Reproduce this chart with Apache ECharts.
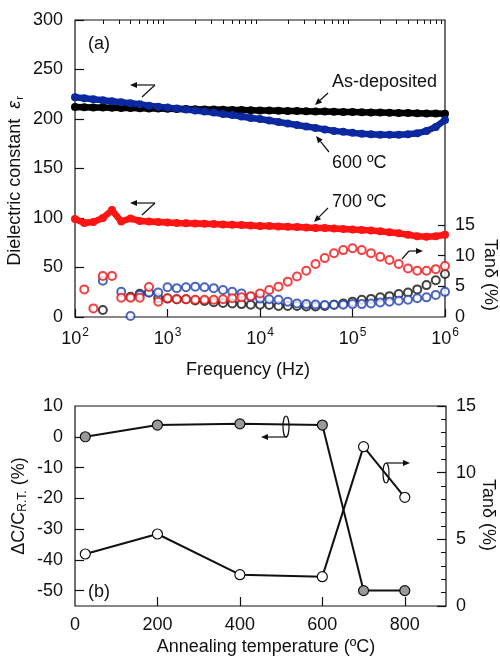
<!DOCTYPE html>
<html>
<head>
<meta charset="utf-8">
<script src="https://cdn.jsdelivr.net/npm/echarts@6/dist/echarts.min.js"></script>
<style>
html, body { margin: 0; padding: 0; background: #fff; }
#main { width: 500px; height: 658px; }
</style>
</head>
<body>
<div id="main"></div>
<script>
// ---- (a) frequency sweep, 10 points per decade
var freqHz = [100, 126, 158, 200, 251, 316, 398, 501, 631, 794,
  1000, 1259, 1585, 1995, 2512, 3162, 3981, 5012, 6310, 7943,
  10000, 12589, 15849, 19953, 25119, 31623, 39811, 50119, 63096, 79433,
  100000, 125893, 158489, 199526, 251189, 316228, 398107, 501187, 630957, 794328, 1000000]

// dielectric constant (left axis)
var epsAsDep = [212, 211.8, 211.6, 211.5, 211.3, 211.1, 211, 210.8, 210.6, 210.5,
  210.3, 210.1, 210, 209.8, 209.6, 209.5, 209.3, 209.1, 209, 208.8,
  208.6, 208.5, 208.3, 208.1, 208, 207.8, 207.6, 207.5, 207.3, 207.1,
  207, 206.8, 206.6, 206.5, 206.3, 206.1, 206, 205.8, 205.6, 205.5, 205.3]
var eps600 = [222, 221, 220, 219, 218, 217, 216, 215, 213.5, 212.5,
  211.5, 210.5, 209.5, 208.5, 207.5, 206.5, 205, 204, 202.5, 201,
  200, 198.5, 197, 195.5, 194, 192.5, 191, 189.5, 188, 187,
  186, 185, 184.5, 184, 184, 184, 184.5, 185.5, 188, 192, 199]
var eps700 = [99, 95, 96, 100, 108, 96.5, 99.5, 97, 96.5, 96,
  95.5, 95, 94.8, 94.5, 94.2, 94, 93.5, 93.2, 93, 92.5,
  92, 91.8, 91.5, 91.2, 91, 90.5, 90, 89.8, 89.5, 89,
  88.5, 88, 87.5, 86.5, 85.5, 84.5, 83, 81.5, 81, 81.5, 83]

// tan delta in % (right axis)
var tanAsDep = [null, null, null, 1.15, null, null, 3.3, 3.8, 4.0, 3.1,
  3.0, 2.9, 2.9, 2.7, 2.6, 2.4, 2.3, 2.2, 2.1, 2.0,
  2.0, 1.95, 1.8, 1.8, 1.8, 1.7, 1.7, 1.8, 2.0, 2.2,
  2.5, 2.8, 2.95, 3.2, 3.4, 3.75, 4.0, 4.5, 5.2, 6.0, 7.0]
var tan600 = [null, null, null, 5.9, null, 4.1, 0.15, 3.6, 4.0, 4.0,
  4.85, 4.7, 4.85, 4.95, 4.85, 4.7, 4.4, 4.1, 3.85, 3.3,
  3.0, 2.9, 2.8, 2.5, 2.2, 2.1, 2.05, 1.95, 2.0, 2.0,
  2.1, 2.1, 2.2, 2.35, 2.5, 2.65, 2.8, 3.05, 3.2, 3.6, 4.1]
var tan700 = [null, 4.5, 1.4, 6.7, 6.7, 3.15, 3.15, 3.15, 4.9, 2.5,
  3.05, 2.9, 2.9, 2.8, 2.8, 2.8, 2.9, 3.05, 3.2, 3.4,
  3.85, 4.4, 4.95, 5.76, 6.6, 7.55, 8.65, 9.6, 10.4, 10.9,
  11.2, 10.9, 10.4, 9.8, 9.3, 8.65, 7.9, 7.55, 7.55, 7.8, 8.3]

var minorFreq = [200, 300, 400, 500, 600, 700, 800, 900,
  2000, 3000, 4000, 5000, 6000, 7000, 8000, 9000,
  20000, 30000, 40000, 50000, 60000, 70000, 80000, 90000,
  200000, 300000, 400000, 500000, 600000, 700000, 800000, 900000]

// ---- (b) annealing
var annealT = [25, 200, 400, 600, 700, 800]
var dCap = [0, 3.8, 4.2, 3.8, -50, -50]
var tanAnneal = [3.9, 5.4, 2.35, 2.2, 11.95, 8.15]

var FONT = '"Liberation Sans", Arial, Helvetica, sans-serif'
var ink = '#111'

function pairs(xs, ys) {
  var out = []
  xs.forEach(function (x, i) { if (ys[i] != null) out.push([x, ys[i]]) })
  return out
}

function arrow(x1, y1, x2, y2) {
  var a = Math.atan2(y2 - y1, x2 - x1), L = 7, W = 3
  var bx = x2 - L * Math.cos(a), by = y2 - L * Math.sin(a)
  return [
    { type: 'line', shape: { x1: x1, y1: y1, x2: bx, y2: by }, style: { stroke: ink, lineWidth: 1.2 } },
    { type: 'polygon', shape: { points: [[x2, y2], [bx + W * Math.sin(a), by - W * Math.cos(a)], [bx - W * Math.sin(a), by + W * Math.cos(a)]] }, style: { fill: ink } }
  ]
}
function seg(x1, y1, x2, y2) {
  return { type: 'line', shape: { x1: x1, y1: y1, x2: x2, y2: y2 }, style: { stroke: ink, lineWidth: 1.2 } }
}
function txt(x, y, text, opt) {
  opt = opt || {}
  return {
    type: 'text', x: x, y: y, rotation: opt.rot || 0,
    style: {
      text: text, fontSize: 18, fontFamily: FONT, fill: ink,
      align: opt.align || 'left', verticalAlign: 'middle', rich: opt.rich
    }
  }
}

var tickLabel = { color: ink, fontSize: 18, fontFamily: FONT }

function denseLine(name, data, color) {
  return {
    name: name, type: 'line', xAxisIndex: 0, yAxisIndex: 0,
    data: pairs(freqHz, data), symbol: 'circle', symbolSize: 8, showAllSymbol: true,
    itemStyle: { color: color }, lineStyle: { color: color, width: 6.5 }, z: 3
  }
}
function openPts(name, data, color) {
  return {
    name: name, type: 'scatter', xAxisIndex: 0, yAxisIndex: 1,
    data: pairs(freqHz, data), symbol: 'emptyCircle', symbolSize: 8,
    itemStyle: { color: color, borderWidth: 1.4 }, z: 2
  }
}

var graphics = [
  txt(88, 44, '(a)'),
  txt(88, 592, '(b)'),
  txt(248, 370, 'Frequency (Hz)', { align: 'center' }),
  txt(266, 647, 'Annealing temperature (ºC)', { align: 'center' }),
  txt(15, 181, '{n|Dielectric constant  }{e|ε}{r|r}', {
    align: 'center', rot: Math.PI / 2,
    rich: {
      n: { fontSize: 18, fontFamily: FONT, fill: ink },
      e: { fontSize: 18, fontFamily: FONT, fontStyle: 'italic', fill: ink },
      r: { fontSize: 11, fontFamily: FONT, fill: ink, padding: [9, 0, 0, 1] }
    }
  }),
  txt(490, 275, 'Tanδ (%)', { align: 'center', rot: -Math.PI / 2 }),
  txt(19, 506, '{n|ΔC/C}{s|R.T.}{n| (%)}', {
    align: 'center', rot: Math.PI / 2,
    rich: {
      n: { fontSize: 18, fontFamily: FONT, fill: ink },
      s: { fontSize: 12, fontFamily: FONT, fill: ink, padding: [8, 0, 0, 0] }
    }
  }),
  txt(488, 515, 'Tanδ (%)', { align: 'center', rot: -Math.PI / 2 }),
  txt(332, 82, 'As-deposited'),
  txt(332, 163, '600 ºC'),
  txt(332, 202, '700 ºC'),
  seg(155, 85, 142, 97),
  seg(155, 203, 142, 215),
  seg(409, 251, 402, 259),
  { type: 'ellipse', shape: { cx: 286, cy: 426.5, rx: 3, ry: 10.5 }, style: { fill: 'none', stroke: ink, lineWidth: 1.2 } },
  { type: 'ellipse', shape: { cx: 386, cy: 473, rx: 3, ry: 10 }, style: { fill: 'none', stroke: ink, lineWidth: 1.2 } }
]
  .concat(arrow(328, 93, 315, 105))
  .concat(arrow(329, 152, 316, 136))
  .concat(arrow(328, 208, 314, 222))
  .concat(arrow(155, 85, 130, 85))
  .concat(arrow(155, 203, 130, 203))
  .concat(arrow(409, 251, 423, 251))
  .concat(arrow(287, 437, 261, 437))
  .concat(arrow(386, 463, 410, 463))

var myChart = echarts.init(document.getElementById('main'))
myChart.setOption({
  animation: false,
  backgroundColor: '#fff',
  grid: [
    { left: 75, top: 20, width: 370, height: 297, show: true, borderColor: ink, borderWidth: 1.2 },
    { left: 75, top: 406, width: 371, height: 200, show: true, borderColor: ink, borderWidth: 1.2 }
  ],
  xAxis: [
    {
      gridIndex: 0, type: 'log', logBase: 10, min: 100, max: 1000000,
      axisLine: { show: false, onZero: false }, splitLine: { show: false },
      axisTick: { inside: true, length: 8, lineStyle: { color: ink, width: 1.2 } },
      axisLabel: {
        margin: 10,
        formatter: function (v) { return '{b|10}{s|' + Math.round(Math.log10(v)) + '}' },
        rich: {
          b: { fontSize: 18, fontFamily: FONT, color: ink },
          s: { fontSize: 12, fontFamily: FONT, color: ink, padding: [0, 0, 12, 1] }
        }
      }
    },
    {
      gridIndex: 0, type: 'log', logBase: 10, min: 100, max: 1000000,
      axisLine: { show: false, onZero: false }, splitLine: { show: false }, axisLabel: { show: false },
      axisTick: { inside: true, length: 4, customValues: minorFreq, lineStyle: { color: ink, width: 1 } }
    },
    {
      gridIndex: 1, type: 'value', min: 0, max: 900,
      axisLine: { show: false, onZero: false }, splitLine: { show: false },
      axisTick: { inside: true, length: 9, customValues: [200, 400, 600, 800], lineStyle: { color: ink, width: 1.2 } },
      axisLabel: Object.assign({ margin: 10, customValues: [0, 200, 400, 600, 800] }, tickLabel)
    }
  ],
  yAxis: [
    {
      gridIndex: 0, type: 'value', min: 0, max: 300, interval: 50,
      axisLine: { show: false, onZero: false }, splitLine: { show: false },
      axisTick: { inside: true, length: 9, lineStyle: { color: ink, width: 1.2 } },
      axisLabel: Object.assign({ margin: 12 }, tickLabel)
    },
    {
      gridIndex: 0, type: 'value', position: 'right', min: 0, max: 48.4,
      axisLine: { show: false, onZero: false }, splitLine: { show: false },
      axisTick: { inside: true, length: 7, customValues: [5, 10, 15], lineStyle: { color: ink, width: 1.2 } },
      axisLabel: Object.assign({ margin: 10, customValues: [0, 5, 10, 15] }, tickLabel)
    },
    {
      gridIndex: 1, type: 'value', min: -55, max: 10,
      axisLine: { show: false, onZero: false }, splitLine: { show: false },
      axisTick: { inside: true, length: 9, customValues: [-50, -40, -30, -20, -10, 0], lineStyle: { color: ink, width: 1.2 } },
      axisLabel: Object.assign({ margin: 12, customValues: [-50, -40, -30, -20, -10, 0, 10] }, tickLabel)
    },
    {
      gridIndex: 1, type: 'value', position: 'right', min: 0, max: 15, interval: 5,
      axisLine: { show: false, onZero: false }, splitLine: { show: false },
      axisTick: { inside: true, length: 9, lineStyle: { color: ink, width: 1.2 } },
      minorTick: { show: true, splitNumber: 5, length: 5, lineStyle: { color: ink, width: 1 } },
      axisLabel: Object.assign({ margin: 10 }, tickLabel)
    }
  ],
  series: [
    openPts('tan as-deposited', tanAsDep, '#111'),
    openPts('tan 600', tan600, '#1f3fb0'),
    openPts('tan 700', tan700, '#f01010'),
    denseLine('As-deposited', epsAsDep, '#000'),
    denseLine('600 ºC', eps600, '#0b28a0'),
    denseLine('700 ºC', eps700, '#ff1414'),
    {
      name: 'dC', type: 'line', xAxisIndex: 2, yAxisIndex: 2,
      data: pairs(annealT, dCap), symbol: 'circle', symbolSize: 10,
      lineStyle: { color: ink, width: 2 },
      itemStyle: { color: '#9a9a9a', borderColor: ink, borderWidth: 1.2 }, z: 3
    },
    {
      name: 'tan anneal', type: 'line', xAxisIndex: 2, yAxisIndex: 3,
      data: pairs(annealT, tanAnneal), symbol: 'circle', symbolSize: 10,
      lineStyle: { color: ink, width: 2 },
      itemStyle: { color: '#fff', borderColor: ink, borderWidth: 1.2 }, z: 3
    }
  ],
  graphic: graphics
})
</script>
</body>
</html>
